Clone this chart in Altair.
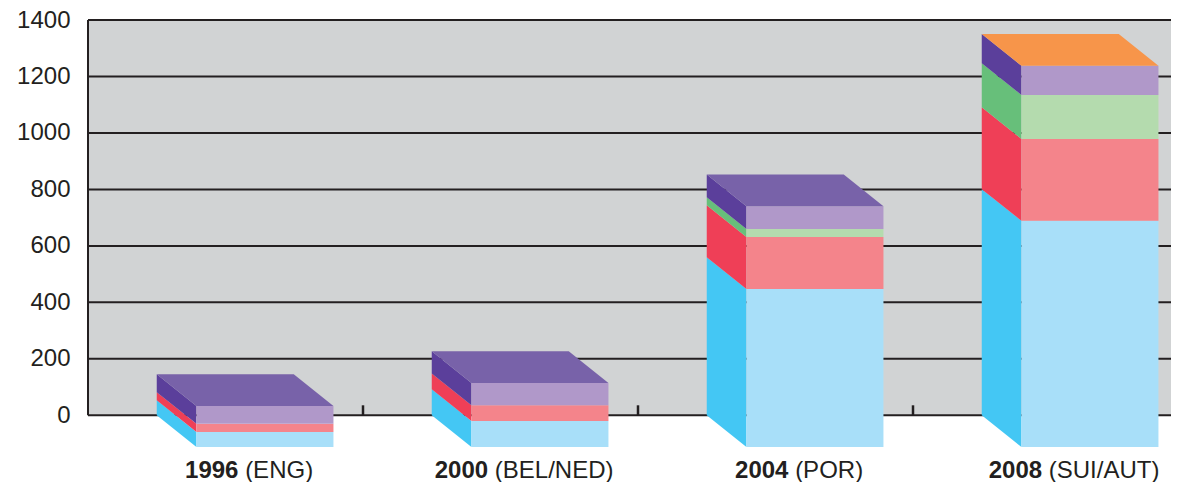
import altair as alt
import pandas as pd

# ---------------- data ----------------
years = ["1996", "2000", "2004", "2008"]
hosts = ["(ENG)", "(BEL/NED)", "(POR)", "(SUI/AUT)"]
segment_names = ["Media rights", "Commercial rights", "Ticketing", "Hospitality"]
media = [53, 92, 560, 801]
commercial = [29, 56, 184, 290]
ticketing = [0, 0, 28, 156]
hospitality = [63, 79, 81, 103]
y_ticks = [0, 200, 400, 600, 800, 1000, 1200, 1400]

# ---------------- style ----------------
front_colors = ["#A8DFF9", "#F4848B", "#B4DBAE", "#B098C9"]
side_colors = ["#44C7F4", "#EF3F57", "#67BF7A", "#5B3F9B"]
top_colors = ["#7862A9", "#7862A9", "#7862A9", "#F7954A"]
BG_GRAY = "#D1D3D4"
INK = "#231F20"
FONT = "Liberation Sans"
FS = 24

PLOT_W = 1083
PLOT_H = 462
BAND_PX = 275.0
XMAX = PLOT_W / BAND_PX
Y_TOP = 1400
PX_PER_VAL = 395.3 / 1400
YMIN = Y_TOP - PLOT_H / PX_PER_VAL
BAR_OFF = 0.25
BAR_W = 137.0 / BAND_PX
DX = 39.7 / BAND_PX
DY = 31.7 / PX_PER_VAL
TICK_LEN = 10 / PX_PER_VAL
LABEL_Y = (415.3 - 478.0) / PX_PER_VAL

series = [media, commercial, ticketing, hospitality]

front_rows, side_rows, top_rows = [], [], []
for i in range(len(years)):
    xb = i + BAR_OFF
    cum = 0
    for s, vals in enumerate(series):
        v = vals[i]
        if v <= 0:
            continue
        start, end = cum, cum + v
        cum = end
        front_rows.append(dict(x=xb + DX, x2=xb + DX + BAR_W, y=start - DY, y2=end - DY,
                               color=front_colors[s], seg=segment_names[s], year=years[i]))
        sid = f"{i}-{s}"
        side_rows.append(dict(id=sid, x=xb, top=end, bot=start, color=side_colors[s]))
        side_rows.append(dict(id=sid, x=xb + DX, top=end - DY, bot=start - DY, color=side_colors[s]))
    top_rows.append(dict(id=str(i), y=cum, x=xb, x2=xb + BAR_W, color=top_colors[i]))
    top_rows.append(dict(id=str(i), y=cum - DY, x=xb + DX, x2=xb + BAR_W + DX, color=top_colors[i]))

front_df = pd.DataFrame(front_rows)
side_df = pd.DataFrame(side_rows)
top_df = pd.DataFrame(top_rows)

# label placement (bold year + regular host, centred on the 3D block)
cw = {"(": 0.333, ")": 0.333, "/": 0.278, "E": 0.667, "N": 0.722, "G": 0.778, "B": 0.667,
      "L": 0.556, "D": 0.722, "P": 0.667, "O": 0.778, "R": 0.722, "S": 0.667, "U": 0.722,
      "I": 0.278, "A": 0.667, "T": 0.611}
lab_rows = []
for i, (yr, h) in enumerate(zip(years, hosts)):
    center_px = (i + BAR_OFF + (BAR_W + DX) / 2) * BAND_PX + 4
    yw = len(yr) * 0.556 * FS
    hw = sum(cw.get(c, 0.667) for c in h) * FS
    total = yw + 0.278 * FS + hw
    split_px = center_px - total / 2 + yw
    lab_rows.append(dict(year=yr, host=h, xs=split_px / BAND_PX,
                         xh=(split_px + 0.278 * FS) / BAND_PX, y=LABEL_Y))
lab_df = pd.DataFrame(lab_rows)

bg_df = pd.DataFrame([dict(x=0, x2=XMAX, y=0, y2=Y_TOP)])
grid_df = pd.DataFrame([dict(y=v, x=0, x2=XMAX) for v in y_ticks])
axis_df = pd.DataFrame([dict(x=0, y=0, y2=Y_TOP)])
tick_df = pd.DataFrame([dict(x=float(k), y=0, y2=TICK_LEN) for k in range(1, len(years))])

xs = alt.Scale(domain=[0, XMAX], nice=False, zero=False)
ys = alt.Scale(domain=[YMIN, Y_TOP], nice=False, zero=False)
yaxis = alt.Axis(values=y_ticks, format="d", grid=False, domain=False, ticks=False,
                 labelFontSize=FS, labelFont=FONT, labelColor=INK, labelPadding=18, title=None)

def X(f):
    return alt.X(f, type="quantitative", scale=xs, axis=None)

def Y(f):
    return alt.Y(f, type="quantitative", scale=ys, axis=yaxis)

bg = alt.Chart(bg_df).mark_rect(color=BG_GRAY).encode(x=X("x"), x2="x2", y=Y("y"), y2="y2")
grid = alt.Chart(grid_df).mark_rule(color=INK, strokeWidth=2).encode(x=X("x"), x2="x2", y=Y("y"))
axis_line = alt.Chart(axis_df).mark_rule(color=INK, strokeWidth=2).encode(x=X("x"), y=Y("y"), y2="y2")
ticks = alt.Chart(tick_df).mark_rule(color=INK, strokeWidth=2.5).encode(x=X("x"), y=Y("y"), y2="y2")

side = alt.Chart(side_df).mark_area(orient="vertical").encode(
    x=X("x"), y=Y("top"), y2="bot", detail="id:N",
    fill=alt.Fill("color:N", scale=None))
front = alt.Chart(front_df).mark_rect().encode(
    x=X("x"), x2="x2", y=Y("y"), y2="y2", fill=alt.Fill("color:N", scale=None))
top = alt.Chart(top_df).mark_area(orient="horizontal").encode(
    y=Y("y"), x=X("x"), x2="x2", detail="id:N", fill=alt.Fill("color:N", scale=None))

lab_year = alt.Chart(lab_df).mark_text(align="right", baseline="alphabetic", font=FONT,
                                       fontSize=FS, fontWeight="bold", color=INK).encode(
    x=X("xs"), y=Y("y"), text="year:N")
lab_host = alt.Chart(lab_df).mark_text(align="left", baseline="alphabetic", font=FONT,
                                       fontSize=FS, color=INK).encode(
    x=X("xh"), y=Y("y"), text="host:N")

chart = alt.layer(bg, grid, axis_line, ticks, side, front, top, lab_year, lab_host).properties(
    width=PLOT_W, height=PLOT_H,
    autosize=alt.AutoSizeParams(type="none"),
    padding={"left": 80, "top": 12, "right": 0, "bottom": 0},
    background="white",
).configure_view(stroke=None)

chart.save("out.html", embed_options={"renderer": "svg", "actions": False})
